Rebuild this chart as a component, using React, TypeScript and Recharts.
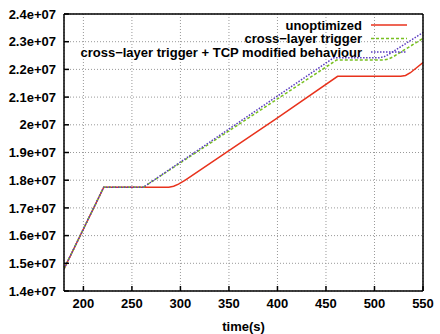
import {
  LineChart,
  Line,
  CartesianGrid,
  Legend,
  XAxis,
  YAxis
} from 'recharts';

interface Pt {
  t: number;
  v: number;
}

// time (s) vs. received bytes
const unoptimizedT = [180, 221, 288, 293, 298, 305, 350, 400, 462, 527, 532, 537, 550];
const unoptimizedV = [1.48e7, 1.775e7, 1.775e7, 1.778e7, 1.786e7, 1.8e7, 1.907e7, 2.025e7, 2.175e7, 2.175e7, 2.178e7, 2.188e7, 2.225e7];

const crossLayerT = [180, 221, 262, 461, 509, 514, 519, 550];
const crossLayerV = [1.48e7, 1.775e7, 1.775e7, 2.234e7, 2.234e7, 2.237e7, 2.245e7, 2.312e7];

const tcpModT = [180, 221, 262, 458, 505, 510, 515, 550];
const tcpModV = [1.48e7, 1.775e7, 1.775e7, 2.242e7, 2.242e7, 2.246e7, 2.255e7, 2.333e7];

const xTicks = [200, 250, 300, 350, 400, 450, 500, 550];
const yTicks = [1.4e7, 1.5e7, 1.6e7, 1.7e7, 1.8e7, 1.9e7, 2e7, 2.1e7, 2.2e7, 2.3e7, 2.4e7];

const seriesNames = [
  'unoptimized',
  'cross\u2212layer trigger',
  'cross\u2212layer trigger + TCP modified behaviour'
];

const zip = (ts: number[], vs: number[]): Pt[] => ts.map((t, i) => ({ t, v: vs[i] }));

const fmtY = (v: number) => {
  const m = v / 1e7;
  const s = Number.isInteger(m) ? String(m) : m.toFixed(1);
  return `${s}e+07`;
};

const FONT = '"Liberation Sans", Arial, sans-serif';
const tickStyle = { fontSize: 13, fontWeight: 'bold' as const, fill: '#000', fontFamily: FONT };

function KeyBox({ payload }: any) {
  const items = [...((payload || []) as any[])].sort(
    (a, b) => seriesNames.indexOf(a.value) - seriesNames.indexOf(b.value)
  );
  return (
    <svg width={360} height={50} style={{ display: 'block' }}>
      {items.map((p, i) => {
        const y = 11 + i * 13.5;
        return (
          <g key={i}>
            <text
              x={298}
              y={y}
              dy="0.35em"
              textAnchor="end"
              fontFamily={FONT}
              fontWeight="bold"
              fontSize={13}
              fill="#000"
            >
              {p.value}
            </text>
            <line
              x1={307}
              x2={343}
              y1={y}
              y2={y}
              stroke={p.color}
              strokeWidth={1.5}
              strokeDasharray={p.payload?.strokeDasharray}
            />
          </g>
        );
      })}
    </svg>
  );
}

export default function App() {
  return (
    <div style={{ position: 'absolute', left: 0, top: 0, background: '#fff' }}>
      <LineChart width={440} height={334} margin={{ top: 13, right: 0, bottom: 0, left: 0 }}>
        <CartesianGrid stroke="#999" strokeDasharray="1 2" />
        <XAxis
          type="number"
          dataKey="t"
          domain={[180, 550]}
          ticks={xTicks}
          allowDataOverflow
          height={43}
          tick={tickStyle}
          tickSize={-5}
          tickMargin={13}
          tickLine={{ stroke: '#000', strokeWidth: 1.5 }}
          axisLine={{ stroke: '#000', strokeWidth: 1.5 }}
          label={{ value: 'time(s)', position: 'insideBottom', offset: 3, style: tickStyle }}
        />
        <XAxis
          xAxisId="top"
          orientation="top"
          type="number"
          dataKey="t"
          domain={[180, 550]}
          ticks={xTicks}
          allowDataOverflow
          height={1}
          tick={false}
          tickSize={-5}
          tickLine={{ stroke: '#000', strokeWidth: 1.5 }}
          axisLine={{ stroke: '#000', strokeWidth: 1.5 }}
        />
        <YAxis
          type="number"
          domain={[1.4e7, 2.4e7]}
          ticks={yTicks}
          allowDataOverflow
          width={64}
          tick={tickStyle}
          tickFormatter={fmtY}
          tickSize={-5}
          tickMargin={13}
          tickLine={{ stroke: '#000', strokeWidth: 1.5 }}
          axisLine={{ stroke: '#000', strokeWidth: 1.5 }}
        />
        <YAxis
          yAxisId="right"
          orientation="right"
          type="number"
          domain={[1.4e7, 2.4e7]}
          ticks={yTicks}
          allowDataOverflow
          width={17}
          tick={false}
          tickSize={-5}
          tickLine={{ stroke: '#000', strokeWidth: 1.5 }}
          axisLine={{ stroke: '#000', strokeWidth: 1.5 }}
        />
        <Legend
          layout="vertical"
          align="center"
          verticalAlign="middle"
          wrapperStyle={{ left: 64, top: 14, width: 360, height: 50 }}
          content={<KeyBox />}
        />
        <Line
          data={zip(unoptimizedT, unoptimizedV)}
          dataKey="v"
          name={seriesNames[0]}
          stroke="#e8321c"
          strokeWidth={1.5}
          dot={false}
          isAnimationActive={false}
        />
        <Line
          data={zip(crossLayerT, crossLayerV)}
          dataKey="v"
          name={seriesNames[1]}
          stroke="#78c020"
          strokeWidth={1.5}
          strokeDasharray="3 2"
          dot={false}
          isAnimationActive={false}
        />
        <Line
          data={zip(tcpModT, tcpModV)}
          dataKey="v"
          name={seriesNames[2]}
          stroke="#5a3cc0"
          strokeWidth={1.5}
          strokeDasharray="1.5 1.5"
          dot={false}
          isAnimationActive={false}
        />
      </LineChart>
    </div>
  );
}
